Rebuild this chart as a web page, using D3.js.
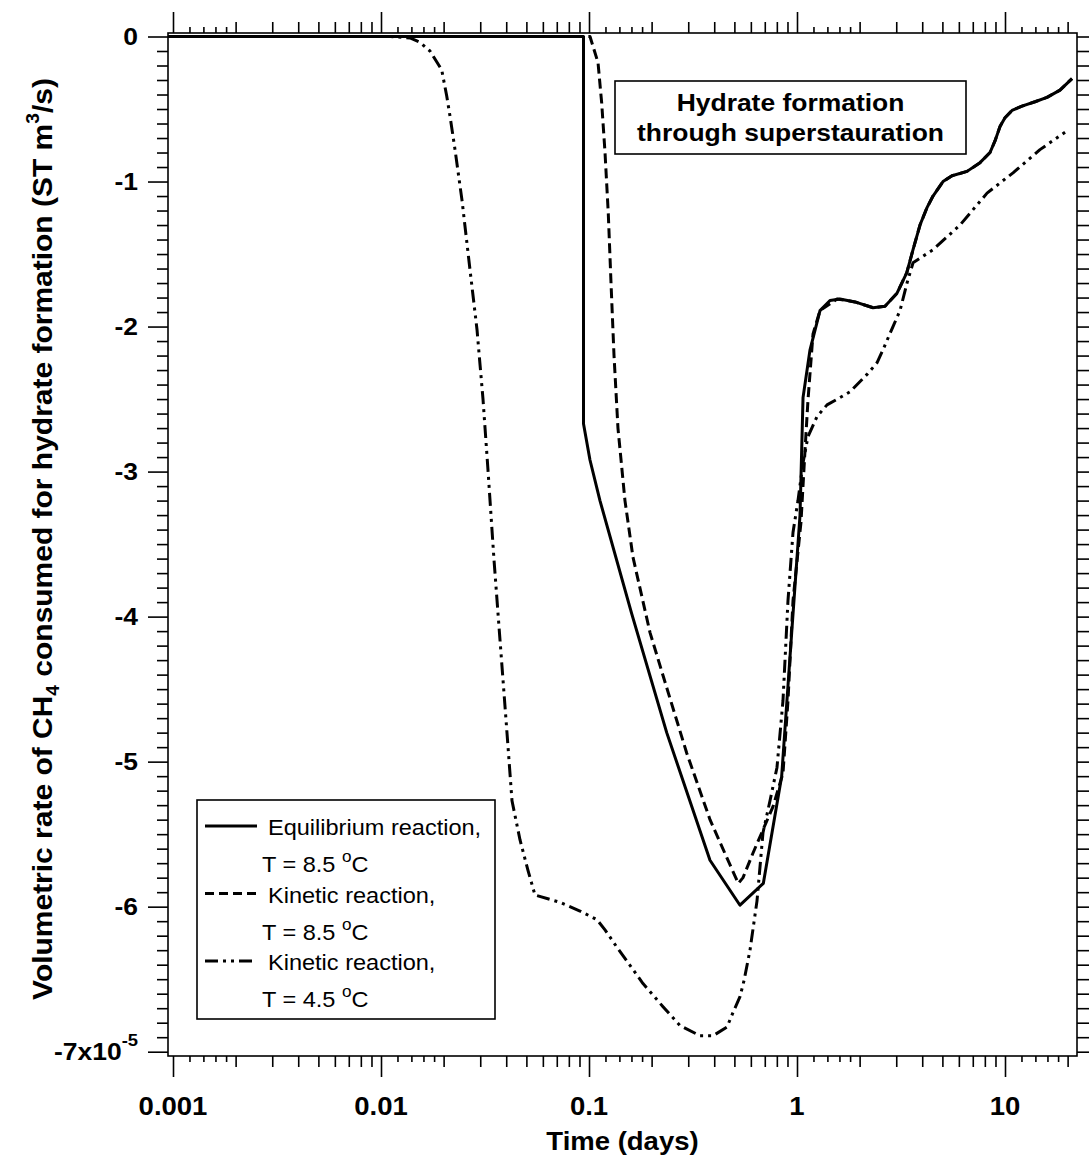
<!DOCTYPE html>
<html><head><meta charset="utf-8">
<script src="https://cdn.jsdelivr.net/npm/d3@7"></script>
<style>
body{margin:0;background:#fff}
svg{display:block}
text{font-family:"Liberation Sans",Arial,sans-serif;fill:#000}
</style>
</head><body>
<script>
// ---------- data (time in days, rate in 1e-5 ST m3/s) ----------
const equilTime = [0.00095, 0.0941, 0.0941, 0.1011, 0.1129, 0.1604, 0.2364, 0.3817, 0.532, 0.6887, 0.844, 0.943, 1.034, 1.069, 1.155, 1.29, 1.441, 1.609, 1.9, 2.32, 2.649, 3.026, 3.369, 3.613, 3.902, 4.217, 4.507, 5.034, 5.563, 6.566, 7.583, 8.473, 8.951, 9.462, 10.0, 10.81, 12.07, 13.94, 15.92, 18.38, 21.0];
const equilRate = [0, 0, -2.67, -2.92, -3.2, -3.98, -4.80, -5.68, -5.99, -5.84, -5.10, -4.11, -3.3, -2.49, -2.16, -1.89, -1.82, -1.81, -1.83, -1.87, -1.86, -1.77, -1.63, -1.47, -1.30, -1.18, -1.1, -1.0, -0.96, -0.93, -0.87, -0.80, -0.72, -0.62, -0.56, -0.51, -0.48, -0.45, -0.42, -0.37, -0.29];

const kin85Time = [0.00095, 0.1011, 0.1105, 0.1151, 0.1194, 0.1238, 0.1276, 0.1319, 0.1378, 0.1489, 0.1627, 0.1965, 0.2364, 0.2949, 0.3817, 0.4592, 0.5222, 0.5501, 0.6145, 0.6863, 0.7667, 0.8563, 0.905, 0.9567, 1.045, 1.093, 1.129, 1.194, 1.29, 1.557, 1.9, 2.32, 2.649, 3.026, 3.369, 3.613, 3.902, 4.217, 4.507, 5.034, 5.563, 6.566, 7.583, 8.473, 8.951, 9.462, 10.0, 10.81, 12.07, 13.94, 15.92, 18.38, 21.0];
const kin85Rate = [0, 0, -0.18, -0.46, -0.80, -1.22, -1.7, -2.2, -2.7, -3.2, -3.59, -4.11, -4.49, -4.94, -5.40, -5.66, -5.84, -5.80, -5.63, -5.47, -5.31, -5.08, -4.58, -3.89, -3.35, -2.85, -2.51, -2.05, -1.89, -1.81, -1.83, -1.87, -1.86, -1.77, -1.63, -1.47, -1.30, -1.18, -1.1, -1.0, -0.96, -0.93, -0.87, -0.80, -0.72, -0.62, -0.56, -0.51, -0.48, -0.45, -0.42, -0.37, -0.29];

const kin45Time = [0.00095, 0.01105, 0.01378, 0.0154, 0.0172, 0.01958, 0.0207, 0.02147, 0.02269, 0.02452, 0.02679, 0.02894, 0.03093, 0.03269, 0.03494, 0.03733, 0.0399, 0.04264, 0.0466, 0.05089, 0.055, 0.07255, 0.0905, 0.1093, 0.1194, 0.1363, 0.1818, 0.2269, 0.2739, 0.3418, 0.3947, 0.4608, 0.4924, 0.532, 0.5562, 0.5943, 0.6423, 0.6863, 0.7416, 0.8013, 0.8563, 0.905, 0.9567, 1.011, 1.069, 1.129, 1.248, 1.394, 1.609, 1.798, 2.17, 2.424, 2.591, 2.894, 3.128, 3.38, 3.613, 4.507, 6.077, 8.197, 10.93, 14.73, 19.44];
const kin45Rate = [0, 0, -0.01, -0.04, -0.10, -0.23, -0.41, -0.55, -0.78, -1.13, -1.61, -2.02, -2.5, -2.99, -3.61, -4.16, -4.71, -5.27, -5.54, -5.75, -5.92, -5.97, -6.03, -6.09, -6.16, -6.28, -6.53, -6.69, -6.82, -6.89, -6.89, -6.83, -6.73, -6.62, -6.51, -6.30, -5.96, -5.49, -5.27, -5.04, -4.58, -3.89, -3.42, -3.2, -2.94, -2.76, -2.62, -2.54, -2.49, -2.45, -2.33, -2.25, -2.16, -2.0, -1.89, -1.70, -1.56, -1.47, -1.30, -1.08, -0.94, -0.78, -0.66];

const xMajorTicks = [0.001, 0.01, 0.1, 1, 10];
const xTickLabels = ["0.001", "0.01", "0.1", "1", "10"];
const yMajorTicks = [0, -1, -2, -3, -4, -5, -6, -7];
const yTickLabels = ["0", "-1", "-2", "-3", "-4", "-5", "-6", "-7x10"];
const yExponent = "-5";

const seriesNames = ["Equilibrium reaction,", "Kinetic reaction,", "Kinetic reaction,"];
const seriesTemps = ["T = 8.5 ", "T = 8.5 ", "T = 4.5 "];
const xTitle = "Time (days)";
const noteLines = ["Hydrate formation", "through superstauration"];

// ---------- layout ----------
const W = 1089, H = 1162;
const L = 168, R = 1077, T = 33, B = 1056;
const svg = d3.select("body").append("svg").attr("width", W).attr("height", H);

const x = d3.scaleLog().domain([Math.pow(10, -3 - 5 / 208), Math.pow(10, 1 + 72 / 208)]).range([L, R]);
const y = d3.scaleLinear().domain([3.5 / 145, -7 - 4.3 / 145]).range([T, B]);
const [xmin, xmax] = x.domain();

// tick sets
const xMedium = [], xSmall = [];
xMajorTicks.forEach(d => {
  [2, 3, 4, 5, 6, 7, 8, 9].forEach(k => { if (k * d <= xmax) xMedium.push(k * d); });
  [1.2, 1.4, 1.6, 1.8].forEach(k => { if (k * d <= xmax) xSmall.push(k * d); });
});
const yMinor = d3.range(-70, 1).filter(i => i % 10 !== 0).map(i => i / 10);

function axisG(axis, tx, ty) {
  const g = svg.append("g").attr("transform", `translate(${tx},${ty})`).call(axis);
  g.select(".domain").remove();
  g.selectAll("line").attr("stroke", "#000").attr("stroke-width", 1.6);
  g.selectAll("text").remove();
  return g;
}
// bottom
axisG(d3.axisBottom(x).tickValues(xMajorTicks).tickSize(21), 0, B);
axisG(d3.axisBottom(x).tickValues(xMedium).tickSize(11), 0, B);
axisG(d3.axisBottom(x).tickValues(xSmall).tickSize(6), 0, B);
// top
axisG(d3.axisTop(x).tickValues(xMajorTicks).tickSize(21), 0, T);
axisG(d3.axisTop(x).tickValues(xMedium).tickSize(11), 0, T);
axisG(d3.axisTop(x).tickValues(xSmall).tickSize(6), 0, T);
// left
axisG(d3.axisLeft(y).tickValues(yMajorTicks).tickSize(20), L, 0);
axisG(d3.axisLeft(y).tickValues(yMinor).tickSize(11), L, 0);
// right
axisG(d3.axisRight(y).tickValues(yMajorTicks).tickSize(20), R, 0);
axisG(d3.axisRight(y).tickValues(yMinor).tickSize(12), R, 0);

// frame
svg.append("rect").attr("x", L).attr("y", T).attr("width", R - L).attr("height", B - T)
  .attr("fill", "none").attr("stroke", "#000").attr("stroke-width", 1.6);

// text helper (slight horizontal stretch like the original)
function htext(px, py, str, size, weight, anchor, sx) {
  return svg.append("text")
    .attr("transform", `translate(${px},${py}) scale(${sx},1)`)
    .attr("font-size", size).attr("font-weight", weight)
    .attr("text-anchor", anchor).text(str);
}

// x tick labels
xMajorTicks.forEach((d, i) => htext(x(d), 1115, xTickLabels[i], 25, "bold", "middle", 1.1));
// y tick labels
yMajorTicks.forEach((d, i) => {
  const t = svg.append("text")
    .attr("transform", `translate(138,${y(d) + 8.5}) scale(1.15,1)`)
    .attr("font-size", 23).attr("font-weight", "bold").attr("text-anchor", "end");
  t.append("tspan").text(yTickLabels[i]);
  if (d === -7) {
    t.append("tspan").attr("dy", -14).attr("font-size", 16).text(yExponent);
  }
});

// x title
htext((L + R) / 2, 1150, xTitle, 25, "bold", "middle", 1.1);

// y title
const yt = svg.append("text").attr("font-size", 28).attr("font-weight", "bold").attr("text-anchor", "middle");
yt.append("tspan").text("Volumetric rate of CH");
yt.append("tspan").attr("dy", 7).attr("font-size", 18).text("4");
yt.append("tspan").attr("dy", -7).text(" consumed for hydrate formation (ST m");
yt.append("tspan").attr("dy", -13).attr("font-size", 18).text("3");
yt.append("tspan").attr("dy", 13).text("/s)");
const natLen = yt.node().getComputedTextLength();
yt.attr("transform", `translate(52,539) rotate(-90) scale(${922 / natLen},1)`);

// lines
const line = d3.line().x(d => x(d[0])).y(d => y(d[1]));
const styles = [
  { t: kin45Time, v: kin45Rate, dash: "13,5,3,5,3,5" },
  { t: kin85Time, v: kin85Rate, dash: "10,5" },
  { t: equilTime, v: equilRate, dash: null }
];
styles.forEach(s => {
  const pts = s.t.map((t, i) => [t, s.v[i]]);
  svg.append("path").attr("d", line(pts)).attr("fill", "none")
    .attr("stroke", "#000").attr("stroke-width", 3)
    .attr("stroke-linejoin", "round")
    .attr("stroke-dasharray", s.dash);
});

// annotation box
svg.append("rect").attr("x", 615).attr("y", 81).attr("width", 351).attr("height", 73)
  .attr("fill", "#fff").attr("stroke", "#000").attr("stroke-width", 1.6);
htext(790.5, 111, noteLines[0], 23, "bold", "middle", 1.15);
htext(790.5, 141, noteLines[1], 23, "bold", "middle", 1.15);

// legend
svg.append("rect").attr("x", 197).attr("y", 800).attr("width", 298).attr("height", 219)
  .attr("fill", "#fff").attr("stroke", "#000").attr("stroke-width", 1.6);
const legDash = [null, "9,5", "13,5,3,5,3,5"];
seriesNames.forEach((name, i) => {
  const b1 = 835 + i * 67.5, b2 = b1 + 37;
  svg.append("line").attr("x1", 205).attr("x2", 257).attr("y1", b1 - 9).attr("y2", b1 - 9)
    .attr("stroke", "#000").attr("stroke-width", 3).attr("stroke-dasharray", legDash[i]);
  htext(268, b1, name, 22, "normal", "start", 1.07);
  const t2 = svg.append("text").attr("transform", `translate(262,${b2}) scale(1.07,1)`)
    .attr("font-size", 22);
  t2.append("tspan").text(seriesTemps[i]);
  t2.append("tspan").attr("dy", -10).attr("font-size", 16).text("o");
  t2.append("tspan").attr("dy", 10).text("C");
});
</script>
</body></html>
